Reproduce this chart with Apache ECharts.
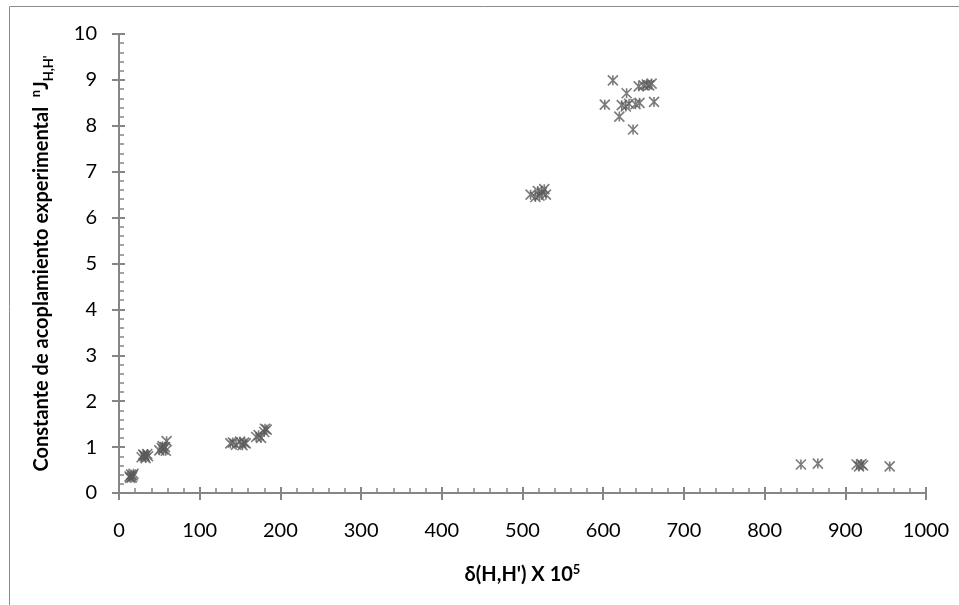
<!DOCTYPE html>
<html>
<head>
<meta charset="utf-8">
<script src="https://cdn.jsdelivr.net/npm/echarts@6/dist/echarts.min.js"></script>
<style>
  html, body { margin: 0; padding: 0; background: #fff; }
  #chart { width: 959px; height: 605px; }
</style>
</head>
<body>
<div id="chart"></div>
<script>
// puntos: [delta x 10^5, nJ(H,H')]
const groupLow = [
  [13, 0.36], [15, 0.40], [16, 0.34], [17, 0.38], [18, 0.42], [14, 0.33],
  [28, 0.78], [30, 0.84], [32, 0.80], [33, 0.76], [35, 0.85], [36, 0.80], [31, 0.82],
  [50, 0.93], [53, 0.98], [55, 0.95], [57, 1.00], [58, 0.92], [59, 1.13], [54, 1.02]
]
const groupMid = [
  [138, 1.08], [141, 1.10], [145, 1.05],
  [150, 1.12], [153, 1.04], [155, 1.10], [157, 1.08],
  [170, 1.22], [173, 1.26], [176, 1.20],
  [180, 1.33], [183, 1.38], [181, 1.40]
]
const group500 = [
  [510, 6.50], [516, 6.45], [519, 6.58], [521, 6.48], [524, 6.55], [527, 6.62], [529, 6.50]
]
const group600 = [
  [602, 8.46], [612, 8.99], [620, 8.20], [623, 8.45], [629, 8.71], [628, 8.42],
  [632, 8.48], [637, 7.92], [640, 8.47], [644, 8.86], [650, 8.88], [654, 8.90],
  [657, 8.88], [660, 8.92], [663, 8.52], [645, 8.50]
]
const group900 = [
  [845, 0.62], [866, 0.64], [914, 0.62], [917, 0.58], [920, 0.63], [922, 0.60], [955, 0.58]
]

const xMin = 0, xMax = 1000, xStep = 100
const yMin = 0, yMax = 10, yStep = 1

const allPoints = [].concat(groupLow, groupMid, group500, group600, group900)

const axisGray = '#868686'
const markGray = '#5a5a5a'
const font = 'Lato, "Open Sans", sans-serif'

const chart = echarts.init(document.getElementById('chart'))

// eje base (ticks hacia fuera) + eje gemelo (ticks hacia dentro y menores) = ticks cruzados
const baseX = {
  type: 'value', min: xMin, max: xMax, interval: xStep, position: 'bottom',
  splitLine: { show: false }
}
const baseY = {
  type: 'value', min: yMin, max: yMax, interval: yStep, position: 'left',
  splitLine: { show: false }
}

const option = {
  animation: false,
  backgroundColor: '#fff',
  grid: { left: 119, right: 33, top: 34, bottom: 112 },
  graphic: [{
    type: 'rect',
    shape: { x: 9.5, y: 6.5, width: 1000, height: 700 },
    style: { fill: 'none', stroke: '#8c8c8c', lineWidth: 1 },
    silent: true
  }],
  xAxis: [
    Object.assign({}, baseX, {
      axisLine: { show: true, lineStyle: { color: axisGray, width: 2 } },
      axisTick: { show: true, inside: false, length: 7, lineStyle: { color: axisGray, width: 2 } },
      axisLabel: { color: '#000', fontSize: 20, fontFamily: font, margin: 28, formatter: v => String(v) },
      name: '{a|δ(H,H\') X 10}{s|5}',
      nameLocation: 'middle',
      nameGap: 70,
      nameTextStyle: {
        rich: {
          a: { fontSize: 20, fontWeight: 'bold', fontFamily: font, color: '#000', lineHeight: 24 },
          s: { fontSize: 13, fontWeight: 'bold', fontFamily: font, color: '#000', verticalAlign: 'top' }
        }
      }
    }),
    Object.assign({}, baseX, {
      axisLine: { show: false },
      axisTick: { show: true, inside: true, length: 6, lineStyle: { color: axisGray, width: 2 } },
      minorTick: { show: true, splitNumber: 5, length: 5, lineStyle: { color: axisGray, width: 1.5 } },
      axisLabel: { show: false }
    })
  ],
  yAxis: [
    Object.assign({}, baseY, {
      axisLine: { show: true, lineStyle: { color: axisGray, width: 2 } },
      axisTick: { show: true, inside: false, length: 7, lineStyle: { color: axisGray, width: 2 } },
      axisLabel: { color: '#000', fontSize: 20, fontFamily: font, margin: 22 },
      name: '{t|Constante de acoplamiento experimental  }{sup|n}{t|J}{sub|H,H\'}',
      nameLocation: 'middle',
      nameRotate: 90,
      nameGap: 64,
      nameTextStyle: {
        rich: {
          t: { fontSize: 20, fontWeight: 'bold', fontFamily: font, color: '#000', lineHeight: 26 },
          sup: { fontSize: 13, fontWeight: 'bold', fontFamily: font, color: '#000', verticalAlign: 'top' },
          sub: { fontSize: 13, fontWeight: 'bold', fontFamily: font, color: '#000', verticalAlign: 'bottom' }
        }
      }
    }),
    Object.assign({}, baseY, {
      axisLine: { show: false },
      axisTick: { show: true, inside: true, length: 6, lineStyle: { color: axisGray, width: 2 } },
      minorTick: { show: true, splitNumber: 5, length: 5, lineStyle: { color: axisGray, width: 1.5 } },
      axisLabel: { show: false }
    })
  ],
  series: [{
    type: 'scatter',
    data: allPoints,
    symbol: 'path://M0,0L10,10M10,0L0,10M5,0L5,10',
    symbolSize: 10,
    itemStyle: { color: 'none', borderColor: markGray, borderWidth: 1.6 }
  }]
}

chart.setOption(option)
</script>
</body>
</html>
